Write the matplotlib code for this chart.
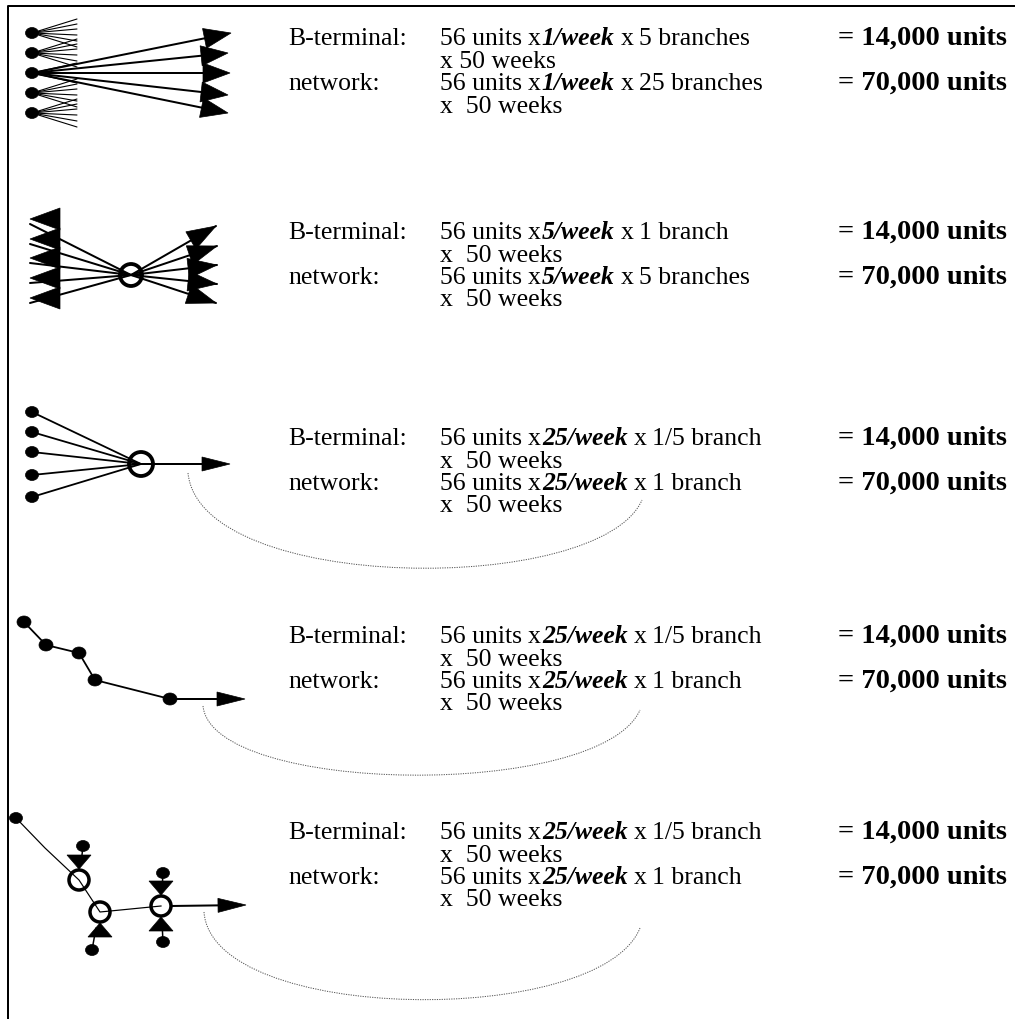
import numpy as np
import matplotlib
matplotlib.use("Agg")
import matplotlib.pyplot as plt
from matplotlib.patches import Polygon, Ellipse, Circle, PathPatch
from matplotlib.path import Path

# ---------------- data ----------------
units_per_delivery = 56
weeks = 50
rates = ["1/week", "5/week", "25/week", "25/week", "25/week"]
bterm_branches = ["5 branches", "1 branch", "1/5 branch", "1/5 branch", "1/5 branch"]
net_branches = ["25 branches", "5 branches", "1 branch", "1 branch", "1 branch"]
bterm_total = "14,000 units"
net_total = "70,000 units"
weeks_line1 = ["x 50 weeks", "x  50 weeks", "x  50 weeks", "x  50 weeks", "x  50 weeks"]
weeks_line2 = ["x  50 weeks"] * 5

# ---------------- layout ----------------
W, H = 1015, 1019
fig = plt.figure(figsize=(W / 100, H / 100), dpi=100)
ax = fig.add_axes([0, 0, 1, 1])
ax.set_xlim(0, W)
ax.set_ylim(H, 0)
ax.axis("off")
renderer = fig.canvas.get_renderer()

PX = 0.72  # points per pixel
FONT = ["Liberation Serif", "DejaVu Serif"]
FS = 18.5
FS_TOT = 20.5

# border (left and top)
ax.plot([8, 8, W], [H, 6, 6], color="black", lw=2 * PX, solid_capstyle="butt")

row_top = [38, 232, 438, 636, 832]
line_gap = 22.5
x_after = [597, 597, 616, 616, 616]
x_branch = [622, 622, 631, 631, 631]


def txt(x, y, s, bold=False, italic=False, size=FS):
    t = ax.text(x, y + 7, s, fontsize=size, family=FONT,
                fontweight="bold" if bold else "normal",
                fontstyle="italic" if italic else "normal",
                va="baseline", ha="left", color="black")
    bb = t.get_window_extent(renderer=renderer)
    return bb.x1


def flow(y, segs):
    end = 0
    for s, tx, gap, kw in segs:
        x = max(tx, end + gap)
        end = txt(x, y, s, **kw)


for i in range(5):
    y0 = row_top[i]
    ys = [y0 + k * line_gap for k in range(4)]
    for lab, yy, br, tot in [("B-terminal:", ys[0], bterm_branches[i], bterm_total),
                             ("network:", ys[2], net_branches[i], net_total)]:
        flow(yy, [
            (lab, 288, 0, {}),
            (f"{units_per_delivery} units", 440, 6, {}),
            ("x", 508, 6, {}),
            (rates[i], 521, 1, dict(bold=True, italic=True)),
            ("x", x_after[i], 6, {}),
            (br, x_branch[i], 6, {}),
            ("= " + tot, 838, 8, dict(bold=True, size=FS_TOT)),
        ])
    txt(440, ys[1], weeks_line1[i])
    txt(440, ys[3], weeks_line2[i])

# ---------------- drawing helpers ----------------
def line(p, q, lw=2.0, color="black"):
    ax.plot([p[0], q[0]], [p[1], q[1]], color=color, lw=lw * PX, solid_capstyle="round")


def head(tip, direction, length=26, half=9):
    d = np.asarray(direction, float)
    d = d / np.hypot(*d)
    n = np.array([-d[1], d[0]])
    tip = np.asarray(tip, float)
    base = tip - d * length
    ax.add_patch(Polygon([tip, base + n * half, base - n * half], closed=True,
                         fc="black", ec="black", lw=0.5))


def arrow(p, tip, length=26, half=8, lw=2.0):
    p = np.asarray(p, float)
    tip = np.asarray(tip, float)
    d = tip - p
    line(p, tip - d / np.hypot(*d) * length * 0.5, lw=lw)
    head(tip, d, length, half)


def dot(c, w=13, h=11):
    ax.add_patch(Ellipse(c, w, h, fc="black", ec="black", lw=0.5))


def ring(c, r=11, lw=3.5):
    ax.add_patch(Circle(c, r, fc="none", ec="black", lw=lw * PX))


def dotted_arc(p0, p1, p2, p3):
    path = Path([p0, p1, p2, p3], [Path.MOVETO, Path.CURVE4, Path.CURVE4, Path.CURVE4])
    ax.add_patch(PathPatch(path, fc="none", ec="#555555", lw=1.0 * PX,
                           linestyle=(0, (1.2, 1.2))))

# ---------------- diagram 1 ----------------
d1_y = [33, 53, 73, 93, 113]
for k, y in enumerate(d1_y):
    dot((32, y))
    if k != 2:
        for off in [-14, -9, -4, 2, 8, 14]:
            line((32, y), (77, y + off), lw=1.1)
    else:
        for off in [-10, 10]:
            line((32, y), (77, y + off), lw=1.1)
tips1 = [(231, 33), (228, 53), (230, 73), (228, 95), (228, 113)]
for t in tips1:
    arrow((32, 73), t, length=27, half=10, lw=2.0)

# ---------------- diagram 2 ----------------
c2 = (131, 275)
left_y = [219, 239, 258, 278, 298]
for y in left_y:
    line(c2, (30, y + 5), lw=2.0)
    ax.add_patch(Polygon([(30, y), (60, y - 11), (60, y + 11)], closed=True,
                         fc="black", ec="black", lw=0.5))
right_tips = [(216, 226), (217, 246), (217, 265), (217, 284), (216, 303)]
for t in right_tips:
    line(c2, t, lw=2.0)
    head(t, (t[0] - c2[0], t[1] - c2[1]), length=29, half=10)
ring(c2, r=11, lw=3.8)

# ---------------- diagram 3 ----------------
c3 = (141, 464)
for y in [412, 432, 452, 475, 497]:
    dot((32, y))
    line((32, y), c3, lw=1.8)
ring(c3, r=12, lw=3.8)
arrow(c3, (230, 464), length=28, half=7)
dotted_arc((188, 473), (200, 594), (600, 596), (642, 500))

# ---------------- diagram 4 ----------------
chain = [(24, 622), (46, 645), (79, 653), (95, 680), (170, 699)]
ax.plot([p[0] for p in chain], [p[1] for p in chain], color="black", lw=1.8 * PX)
for p in chain:
    dot(p, 14, 12)
arrow((170, 699), (245, 699), length=28, half=7)
dotted_arc((203, 706), (212, 795), (600, 800), (640, 710))

# ---------------- diagram 5 ----------------
A = (16, 818)
bend = (45, 848)
c51 = (79, 880)
c52 = (100, 912)
c53 = (161, 906)
ax.plot([A[0], bend[0], c51[0], c52[0], c53[0]],
        [A[1], bend[1], c51[1], c52[1], c53[1]], color="black", lw=1.2 * PX)
dot(A)


def spur(cc, dy_dir, dist_dot=34, dx=2):
    # arrowhead points toward the circle; dot sits further out
    cx, cy = cc
    dp = (cx + dx, cy + dy_dir * dist_dot)
    line(dp, (cx + dx / 2, cy + dy_dir * 16), lw=1.5)
    tip = (cx, cy + dy_dir * 11)
    head(tip, (0, -dy_dir), length=14, half=12)
    dot(dp)


spur(c51, -1, dist_dot=34, dx=4)
spur(c52, +1, dist_dot=38, dx=-8)
spur(c53, -1, dist_dot=33, dx=2)
spur(c53, +1, dist_dot=36, dx=2)
for cc in [c51, c52, c53]:
    ring(cc, r=10, lw=3.5)
arrow((c53[0] + 10, c53[1]), (246, 905), length=28, half=7)
dotted_arc((204, 912), (212, 1024), (600, 1028), (640, 928))

fig.savefig("out.png", dpi=100, facecolor="white")
